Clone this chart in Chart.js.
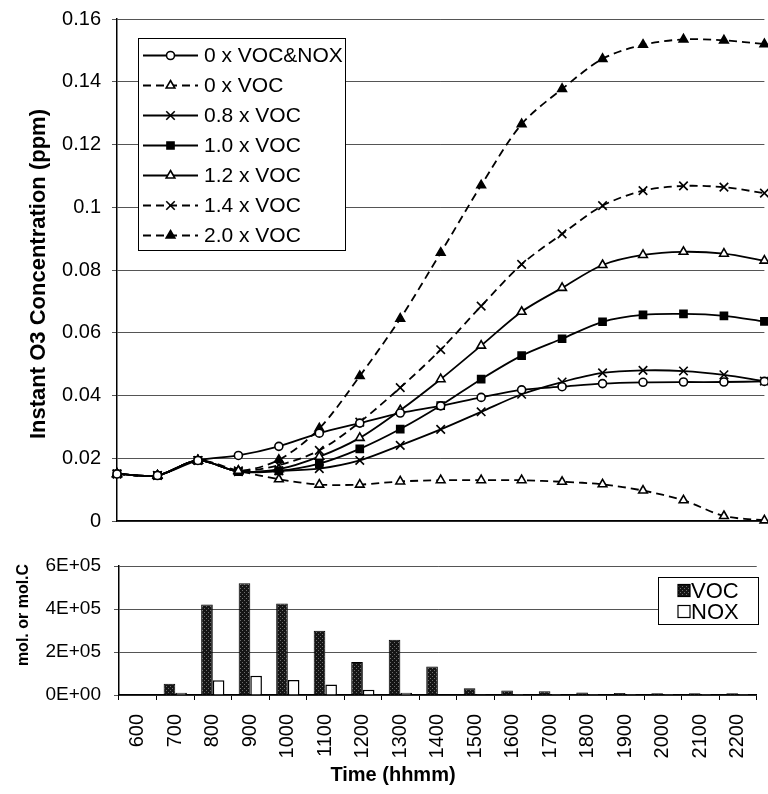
<!DOCTYPE html>
<html>
<head>
<meta charset="utf-8">
<title>O3 and emissions</title>
<script src="https://cdn.jsdelivr.net/npm/chart.js"></script>
<style>
  html, body { margin: 0; padding: 0; background: #fff; }
  body { width: 768px; height: 794px; overflow: hidden; position: relative; }
  #top { position: absolute; left: 0; top: 0; width: 772px; height: 532px; }
  #bottom { position: absolute; left: 0; top: 540px; width: 776px; height: 254px; }
</style>
</head>
<body>
<div id="top"><canvas id="js-o3Chart"></canvas></div>
<div id="bottom"><canvas id="js-emisChart"></canvas></div>
<script>
// categories (hhmm)
var times = ['600', '700', '800', '900', '1000', '1100', '1200', '1300', '1400',
             '1500', '1600', '1700', '1800', '1900', '2000', '2100', '2200'];

// instant O3 (ppm), one array per emission scenario
var o3NoVocNox = [0.015, 0.0145, 0.0193, 0.0209, 0.0238, 0.028, 0.0312, 0.0344, 0.0367, 0.0394, 0.0418, 0.0428, 0.0438, 0.0442, 0.0443, 0.0443, 0.0445];
var o3NoVoc    = [0.015, 0.0145, 0.0193, 0.016, 0.0133, 0.0116, 0.0116, 0.0126, 0.013, 0.013, 0.013, 0.0125, 0.0117, 0.0097, 0.0066, 0.0016, 0.0002];
var o3Voc08    = [0.015, 0.0145, 0.0193, 0.0157, 0.016, 0.0167, 0.0193, 0.0241, 0.0292, 0.0348, 0.0404, 0.0443, 0.0472, 0.048, 0.0478, 0.0466, 0.0446];
var o3Voc10    = [0.015, 0.0145, 0.0193, 0.0157, 0.016, 0.0183, 0.023, 0.0293, 0.0368, 0.0452, 0.0527, 0.0581, 0.0635, 0.0657, 0.066, 0.0654, 0.0636];
var o3Voc12    = [0.015, 0.0145, 0.0193, 0.0158, 0.0165, 0.0205, 0.0265, 0.0353, 0.0452, 0.0559, 0.0667, 0.0743, 0.0816, 0.0848, 0.0858, 0.0852, 0.083];
var o3Voc14    = [0.015, 0.0145, 0.0193, 0.016, 0.0178, 0.0225, 0.0315, 0.0425, 0.0546, 0.0685, 0.0818, 0.0915, 0.1005, 0.1053, 0.1068, 0.1064, 0.1045];
var o3Voc20    = [0.015, 0.0145, 0.0193, 0.016, 0.0195, 0.0295, 0.0462, 0.0645, 0.0855, 0.107, 0.1265, 0.1377, 0.1473, 0.1518, 0.1535, 0.1532, 0.152];

// emissions (mol. or mol.C)
var vocEmis = [0, 52000, 421000, 520000, 426000, 299000, 153000, 257000, 132000, 31000, 21000, 18000, 12000, 9000, 8000, 8000, 8000];
var noxEmis = [0, 10000, 69000, 90000, 70000, 49000, 24000, 10000, 3000, 1000, 500, 500, 500, 500, 500, 500, 500];

var FONT = '"Liberation Sans", Arial, Helvetica, sans-serif';
Chart.defaults.font.family = FONT;
Chart.defaults.color = '#000';

/*--------------------
    helpers
--------------------*/
// dark stipple fill like the scanned VOC bars
function stipple() {
    var c = document.createElement('canvas');
    c.width = 4; c.height = 4;
    var g = c.getContext('2d');
    g.fillStyle = '#151515';
    g.fillRect(0, 0, 4, 4);
    g.fillStyle = '#6e6e6e';
    g.fillRect(0, 0, 1, 1);
    g.fillRect(2, 2, 1, 1);
    return g.createPattern(c, 'repeat');
}

function marker(ctx, style, r, x, y) {
    ctx.beginPath();
    if (style === 'circle') {
        ctx.arc(x, y, r, 0, Math.PI * 2);
    } else if (style === 'rect') {
        var s = r * Math.SQRT1_2;
        ctx.rect(x - s, y - s, 2 * s, 2 * s);
    } else if (style === 'triangle') {
        ctx.moveTo(x, y - r);
        ctx.lineTo(x + r * 0.866, y + r * 0.5);
        ctx.lineTo(x - r * 0.866, y + r * 0.5);
        ctx.closePath();
    } else if (style === 'crossRot') {
        var d = r * Math.SQRT1_2;
        ctx.moveTo(x - d, y - d); ctx.lineTo(x + d, y + d);
        ctx.moveTo(x + d, y - d); ctx.lineTo(x - d, y + d);
    }
    if (style !== 'crossRot') ctx.fill();
    ctx.stroke();
}

// free text (axis titles)
var freeText = {
    id: 'freeText',
    afterDraw: function (chart, args, opts) {
        var ctx = chart.ctx;
        (opts.items || []).forEach(function (t) {
            ctx.save();
            ctx.translate(t.x, t.y);
            ctx.rotate(t.rot || 0);
            ctx.font = t.font;
            ctx.fillStyle = '#000';
            ctx.textAlign = 'center';
            ctx.textBaseline = 'middle';
            ctx.fillText(t.text, 0, 0);
            ctx.restore();
        });
    }
};

// boxed legend drawn inside the plot
var boxLegend = {
    id: 'boxLegend',
    afterDraw: function (chart, args, o) {
        var ctx = chart.ctx;
        ctx.save();
        ctx.fillStyle = '#fff';
        ctx.fillRect(o.x, o.y, o.w, o.h);
        ctx.strokeStyle = '#000';
        ctx.lineWidth = 1;
        ctx.strokeRect(o.x + 0.5, o.y + 0.5, o.w, o.h);
        ctx.font = o.font;
        ctx.textBaseline = 'middle';
        chart.data.datasets.forEach(function (ds, i) {
            var cy = o.y + o.first + i * o.step;
            if (o.kind === 'line') {
                ctx.strokeStyle = '#000';
                ctx.lineWidth = ds.borderWidth;
                ctx.setLineDash(ds.borderDash);
                ctx.beginPath();
                ctx.moveTo(o.x0, cy);
                ctx.lineTo(o.x1, cy);
                ctx.stroke();
                ctx.setLineDash([]);
                ctx.fillStyle = ds.pointBackgroundColor;
                ctx.lineWidth = ds.pointBorderWidth;
                marker(ctx, ds.pointStyle, ds.pointRadius, (o.x0 + o.x1) / 2, cy);
            } else {
                ctx.fillStyle = ds.backgroundColor;
                ctx.fillRect(o.sx, cy - 6, 12, 12);
                ctx.strokeStyle = '#000';
                ctx.lineWidth = 1.2;
                ctx.strokeRect(o.sx, cy - 6, 12, 12);
            }
            ctx.fillStyle = '#000';
            ctx.fillText(ds.label, o.tx, cy + 1);
        });
        ctx.restore();
    }
};

function series(label, data, style, radius, dashed, filled) {
    return {
        label: label,
        data: data,
        borderColor: '#000',
        borderWidth: 1.8,
        borderDash: dashed ? [8, 5] : [],
        pointStyle: style,
        pointRadius: radius,
        pointHoverRadius: radius,
        pointBackgroundColor: filled ? '#000' : '#fff',
        pointBorderColor: '#000',
        pointBorderWidth: 1.6,
        tension: 0.3,
        fill: false,
        clip: false
    };
}

// keep the plot box where the layout padding puts it
function noLabelPad(s) {
    s.paddingTop = 0;
    s.paddingBottom = 0;
}

/*--------------------
    01.O3 lines
--------------------*/
var ctx = document.getElementById('js-o3Chart').getContext('2d');
var o3Chart = new Chart(ctx, {
    type: 'line',
    data: {
        labels: times,
        datasets: [
            series('0 x VOC&NOX', o3NoVocNox, 'circle', 4, false, false),
            series('0 x VOC', o3NoVoc, 'triangle', 5, true, false),
            series('0.8 x VOC', o3Voc08, 'crossRot', 6, false, false),
            series('1.0 x VOC', o3Voc10, 'rect', 5, false, true),
            series('1.2 x VOC', o3Voc12, 'triangle', 5, false, false),
            series('1.4 x VOC', o3Voc14, 'crossRot', 6, true, false),
            series('2.0 x VOC', o3Voc20, 'triangle', 5, true, true)
        ]
    },
    plugins: [boxLegend, freeText],
    options: {
        responsive: true,
        maintainAspectRatio: false,
        animation: false,
        devicePixelRatio: 1,
        layout: { padding: { top: 19, right: 1, left: 0, bottom: 0 } },
        scales: {
            x: {
                offset: false,
                ticks: { display: false },
                grid: { display: false },
                border: { color: '#000', width: 1.5 },
                afterFit: function (s) { s.height = 11; }
            },
            y: {
                min: 0,
                max: 0.16,
                ticks: {
                    stepSize: 0.02,
                    font: { size: 20 },
                    padding: 11,
                    callback: function (v) { return String(+v.toFixed(2)); }
                },
                grid: { color: '#555', lineWidth: 1, tickLength: 5 },
                border: { color: '#000', width: 1.5 },
                afterFit: function (s) { s.width = 117; noLabelPad(s); }
            }
        },
        plugins: {
            legend: { display: false },
            tooltip: { enabled: false },
            boxLegend: {
                kind: 'line', x: 138, y: 38, w: 207, h: 212, first: 17.5, step: 30,
                x0: 143, x1: 198, tx: 204, font: '21px ' + FONT
            },
            freeText: {
                items: [{ text: 'Instant O3 Concentration (ppm)', x: 39, y: 274, rot: -Math.PI / 2, font: 'bold 22px ' + FONT }]
            }
        }
    }
});

/*--------------------
    02.Emission bars
--------------------*/
var sci = function (v) {
    if (v === 0) return '0E+00';
    var e = Math.floor(Math.log10(v));
    var m = Math.round(v / Math.pow(10, e) * 100) / 100;
    return m + 'E+' + (e < 10 ? '0' : '') + e;
};

var ctx = document.getElementById('js-emisChart').getContext('2d');
var emisChart = new Chart(ctx, {
    type: 'bar',
    data: {
        labels: times,
        datasets: [{
            label: 'VOC',
            data: vocEmis,
            backgroundColor: stipple(),
            borderColor: '#000',
            borderWidth: 1,
            barPercentage: 1,
            categoryPercentage: 0.62
        }, {
            label: 'NOX',
            data: noxEmis,
            backgroundColor: '#fff',
            borderColor: '#000',
            borderWidth: 1.5,
            barPercentage: 1,
            categoryPercentage: 0.62
        }]
    },
    plugins: [boxLegend, freeText],
    options: {
        responsive: true,
        maintainAspectRatio: false,
        animation: false,
        devicePixelRatio: 1,
        layout: { padding: { top: 26, right: 1, left: 0, bottom: 0 } },
        scales: {
            x: {
                ticks: { font: { size: 20 }, minRotation: 90, maxRotation: 90, padding: 14, autoSkip: false },
                grid: { drawOnChartArea: false, color: '#000', tickLength: 5 },
                border: { color: '#000', width: 1.5 },
                afterFit: function (s) { s.height = 99; }
            },
            y: {
                min: 0,
                max: 600000,
                ticks: { stepSize: 200000, font: { size: 19 }, padding: 13, callback: sci },
                grid: { color: '#555', lineWidth: 1, tickLength: 5 },
                border: { color: '#000', width: 1.5 },
                afterFit: function (s) { s.width = 119; noLabelPad(s); }
            }
        },
        plugins: {
            legend: { display: false },
            tooltip: { enabled: false },
            boxLegend: {
                kind: 'box', x: 658, y: 37, w: 100, h: 47, first: 13.5, step: 21,
                sx: 678, tx: 691, font: '22px ' + FONT
            },
            freeText: {
                items: [
                    { text: 'mol. or mol.C', x: 24, y: 75, rot: -Math.PI / 2, font: 'bold 16px ' + FONT },
                    { text: 'Time (hhmm)', x: 393, y: 235, rot: 0, font: 'bold 20px ' + FONT }
                ]
            }
        }
    }
});
</script>
</body>
</html>
